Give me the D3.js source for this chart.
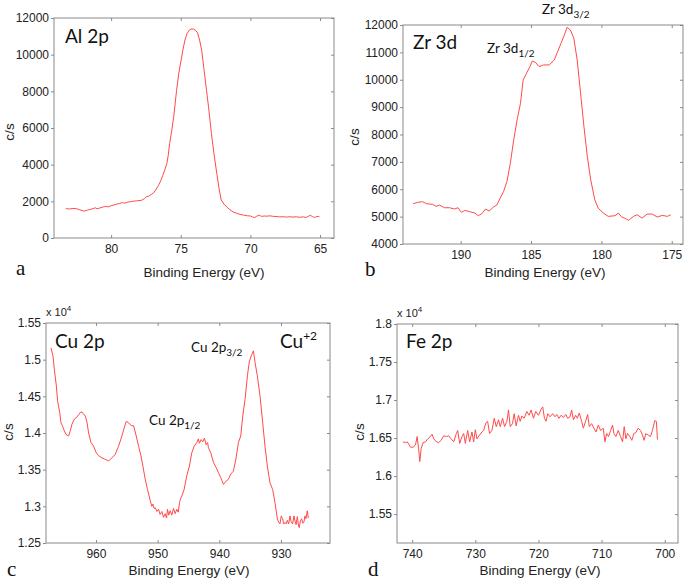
<!DOCTYPE html>
<html><head><meta charset="utf-8">
<script src="https://cdn.jsdelivr.net/npm/d3@7"></script>
<style>
html,body{margin:0;padding:0;background:#fff;}
svg{display:block;}
</style></head>
<body>
<svg id="c" width="685" height="581"></svg>
<script>
// ---------- DATA ----------
const alEnergy = [83.25,83.0,82.75,82.5,82.25,82.0,81.9,81.7,81.5,81.3,81.15,81.0,80.8,80.6,80.4,80.2,80.0,79.8,79.6,79.4,79.2,79.0,78.8,78.6,78.4,78.2,78.0,77.8,77.6,77.45,77.3,77.1,76.95,76.8,76.6,76.45,76.3,76.15,76.0,75.9,75.8,75.65,75.5,75.3,75.15,75.0,74.85,74.7,74.55,74.4,74.25,74.1,73.95,73.8,73.65,73.5,73.35,73.15,73.0,72.8,72.6,72.4,72.25,72.1,71.9,71.7,71.5,71.25,71.0,70.75,70.5,70.2,70.0,69.85,69.7,69.55,69.35,69.2,69.0,68.8,68.6,68.35,68.1,67.9,67.65,67.4,67.2,66.95,66.7,66.5,66.2,66.0,65.85,65.7,65.55,65.4,65.25,65.05];
const alCounts = [1600,1580,1610,1600,1540,1480,1470,1520,1560,1600,1650,1590,1640,1690,1720,1700,1760,1800,1850,1880,1930,1900,1960,1980,2010,2020,2040,2060,2150,2260,2280,2380,2460,2620,2870,3100,3400,3700,4060,4500,5150,5850,6650,8050,8950,9600,10250,10800,11150,11330,11400,11400,11330,11200,10800,10250,9300,8050,7100,5700,4500,3450,2700,2080,1850,1690,1560,1420,1350,1290,1250,1210,1200,1150,1110,1190,1240,1180,1200,1190,1210,1180,1170,1150,1160,1140,1160,1140,1160,1130,1150,1120,1180,1240,1170,1120,1170,1180];

const zrEnergy = [193.38,193.07,192.71,192.42,191.99,191.75,191.51,191.15,190.79,190.43,190.19,189.95,189.71,189.35,188.99,188.75,188.51,188.22,187.98,187.67,187.43,187.19,186.95,186.71,186.47,186.23,185.99,185.75,185.56,185.32,185.08,184.91,184.67,184.43,184.12,183.71,183.35,183.11,182.87,182.63,182.44,182.2,181.96,181.72,181.48,181.24,181.0,180.76,180.47,180.23,179.87,179.51,179.03,178.79,178.55,178.31,178.07,177.71,177.47,177.11,176.75,176.39,176.03,175.67,175.31,175.07];
const zrCounts = [5471,5520,5544,5471,5447,5374,5422,5325,5325,5277,5325,5155,5228,5180,5131,5033,5106,5277,5204,5350,5422,5678,5921,6286,6954,7805,8535,9143,9994,10237,10480,10687,10626,10480,10541,10541,10723,11027,11331,11635,11915,11818,11514,10723,9508,8292,7198,6347,5617,5313,5131,5009,5033,5131,4985,4936,4863,5009,5070,4948,5094,5094,4985,5046,5009,5070];

const cuEnergy = [967.29,966.96,966.75,966.42,966.21,965.88,965.67,965.45,965.13,964.86,964.43,964.16,963.89,963.51,963.18,962.81,962.43,962.1,961.73,961.46,961.19,960.81,960.38,959.95,959.57,959.03,958.49,957.95,957.41,956.87,956.33,955.79,955.41,955.09,954.71,954.28,953.9,953.47,953.09,952.71,952.39,952.01,951.64,
  951.2,950.95,950.77,950.55,950.39,950.1,949.85,949.6,949.31,949.05,948.77,948.55,948.4,948.2,947.97,947.7,947.43,947.15,946.89,946.65,946.45,946.3,946.08,
  945.7,945.27,944.84,944.46,944.08,943.65,943.4,943.22,942.95,942.68,942.4,942.14,941.9,941.76,941.38,940.95,940.52,940.14,939.76,939.33,938.95,938.52,938.14,937.71,937.28,936.9,936.52,936.2,935.82,935.44,935.12,934.74,934.47,934.2,933.83,933.39,932.96,932.59,932.21,931.78,931.35,930.97,
  930.59,930.35,930.16,929.95,929.73,929.55,929.35,929.15,928.97,928.75,928.54,928.35,928.11,927.9,927.73,927.55,927.35,927.15,927.03,926.85,926.65,926.45,926.27,926.1,925.95,925.73,925.57];
// counts in units of 10^4 c/s
const cuCounts = [1.516,1.505,1.487,1.464,1.443,1.428,1.414,1.41,1.403,1.398,1.396,1.403,1.412,1.419,1.421,1.425,1.429,1.427,1.423,1.415,1.4,1.387,1.382,1.373,1.369,1.366,1.364,1.362,1.366,1.371,1.382,1.396,1.407,1.416,1.414,1.41,1.41,1.396,1.382,1.369,1.355,1.337,1.323,
  1.308,1.3,1.303,1.297,1.298,1.293,1.296,1.289,1.293,1.285,1.29,1.284,1.296,1.288,1.294,1.288,1.297,1.29,1.296,1.292,1.305,1.31,1.314,
  1.323,1.342,1.355,1.373,1.382,1.387,1.392,1.386,1.391,1.388,1.393,1.384,1.387,1.38,1.373,1.36,1.353,1.346,1.339,1.33,1.334,1.337,1.344,1.348,1.366,1.387,1.396,1.423,1.446,1.478,1.498,1.507,1.512,1.496,1.478,1.45,1.414,1.382,1.355,1.332,1.323,1.305,
  1.283,1.278,1.276,1.287,1.283,1.276,1.278,1.276,1.281,1.276,1.287,1.279,1.276,1.287,1.28,1.275,1.286,1.273,1.271,1.28,1.283,1.277,1.279,1.287,1.283,1.294,1.284];

const feEnergy = [741.47,741.05,740.79,740.53,740.26,739.84,739.47,739.21,738.95,738.79,738.58,738.26,737.89,737.53,737.11,736.84,736.58,736.16,735.79,735.42,735.0,734.58,734.21,733.84,733.42,733.0,732.79,732.47,732.11,731.84,731.58,731.21,730.89,730.53,730.26,730.0,729.74,729.32,728.95,728.68,728.32,728.05,727.74,727.37,727.0,726.68,726.32,726.05,725.68,725.37,725.0,724.74,724.47,724.11,723.84,723.53,723.16,722.89,722.63,722.26,721.84,721.47,721.16,720.79,720.42,720.0,719.63,719.32,719.05,718.79,718.53,718.16,717.74,717.37,717.11,716.74,716.42,716.05,715.68,715.37,715.0,714.74,714.47,714.11,713.84,713.53,713.16,712.89,712.53,712.21,711.95,711.58,711.21,710.89,710.53,710.16,709.74,709.47,709.21,708.89,708.58,708.26,708.05,707.74,707.37,707.0,706.68,706.42,706.16,705.89,705.53,705.21,704.89,704.58,704.21,703.84,703.53,703.26,703.0,702.63,702.26,701.95,701.58,701.32,701.16];
const feCounts = [1.645,1.644,1.645,1.642,1.638,1.638,1.641,1.652,1.634,1.619,1.636,1.644,1.645,1.649,1.652,1.655,1.649,1.645,1.644,1.647,1.653,1.652,1.653,1.649,1.645,1.656,1.66,1.643,1.652,1.656,1.643,1.66,1.645,1.658,1.645,1.661,1.649,1.654,1.658,1.66,1.67,1.672,1.656,1.66,1.676,1.665,1.674,1.665,1.676,1.665,1.672,1.687,1.665,1.669,1.682,1.666,1.68,1.672,1.679,1.676,1.685,1.68,1.687,1.676,1.685,1.68,1.687,1.691,1.676,1.672,1.682,1.678,1.682,1.678,1.681,1.676,1.68,1.677,1.681,1.676,1.678,1.687,1.674,1.68,1.676,1.683,1.672,1.663,1.672,1.681,1.665,1.669,1.663,1.658,1.667,1.66,1.663,1.645,1.656,1.652,1.66,1.667,1.656,1.652,1.66,1.652,1.645,1.665,1.649,1.656,1.652,1.647,1.656,1.657,1.663,1.66,1.654,1.647,1.656,1.654,1.652,1.66,1.673,1.672,1.648];

const alXTicks = [80,75,70,65];
const alYTicks = [0,2000,4000,6000,8000,10000,12000];
const zrXTicks = [190,185,180,175];
const zrYTicks = [4000,5000,6000,7000,8000,9000,10000,11000,12000];
const cuXTicks = [960,950,940,930];
const cuYTicks = [1.25,1.3,1.35,1.4,1.45,1.5,1.55];
const feXTicks = [740,730,720,710,700];
const feYTicks = [1.55,1.6,1.65,1.7,1.75,1.8];

// ---------- DRAW ----------
const svg = d3.select("#c");
const LINE = "#ff4a4a";
const FRAME = "#8a8a8a";
const TXT = "#222";
const SANS = "'Liberation Sans', Arial, sans-serif";
const TITLE = "Lato, 'Open Sans', sans-serif";

function panel(cfg){
  const x = d3.scaleLinear().domain(cfg.xd).range([cfg.l, cfg.r]);
  const y = d3.scaleLinear().domain(cfg.yd).range([cfg.b, cfg.t]);
  const g = svg.append("g");
  const fmt = cfg.fmt || (d=>String(d));
  const styleAxis = sel => {
    sel.select(".domain").remove();
    sel.selectAll("line").attr("stroke", FRAME);
    sel.selectAll("text").attr("fill", TXT).style("font-family", SANS).style("font-size","12px");
  };
  g.append("g").attr("transform",`translate(0,${cfg.b})`)
    .call(d3.axisBottom(x).tickValues(cfg.xt).tickSize(-3).tickPadding(6).tickFormat(d3.format("d")))
    .call(styleAxis);
  g.append("g").attr("transform",`translate(0,${cfg.t})`)
    .call(d3.axisTop(x).tickValues(cfg.xt).tickSize(-3).tickFormat(""))
    .call(styleAxis);
  g.append("g").attr("transform",`translate(${cfg.l},0)`)
    .call(d3.axisLeft(y).tickValues(cfg.yt).tickSize(3).tickPadding(2).tickFormat(fmt))
    .call(styleAxis);
  g.append("g").attr("transform",`translate(${cfg.r},0)`)
    .call(d3.axisRight(y).tickValues(cfg.yt).tickSize(-3).tickFormat(""))
    .call(styleAxis);
  g.append("rect").attr("x",cfg.l).attr("y",cfg.t).attr("width",cfg.r-cfg.l).attr("height",cfg.b-cfg.t)
    .attr("fill","none").attr("stroke",FRAME).attr("stroke-width",1);
  const pts = cfg.xs.map((v,i)=>[v,cfg.ys[i]]);
  g.append("path").datum(pts)
    .attr("d", d3.line().x(d=>x(d[0])).y(d=>y(d[1])).curve(cfg.curve||d3.curveLinear))
    .attr("fill","none").attr("stroke",LINE).attr("stroke-width",1).attr("stroke-linejoin","round");
  g.append("text").attr("x",cfg.xlx).attr("y",cfg.xly).attr("text-anchor","middle")
    .style("font-family",SANS).style("font-size","13.5px").attr("fill",TXT).text("Binding Energy (eV)");
  g.append("text").attr("transform",`translate(${cfg.ylx},${cfg.yly}) rotate(-90)`).attr("text-anchor","middle")
    .style("font-family",SANS).style("font-size","13.5px").attr("fill",TXT).text("c/s");
  g.append("text").attr("x",cfg.px).attr("y",cfg.py)
    .style("font-family","'Liberation Serif', 'Times New Roman', serif").style("font-size","21px").attr("fill","#111").text(cfg.letter);
  g.append("text").attr("x",cfg.tx).attr("y",cfg.ty)
    .style("font-family",TITLE).style("font-size","19px").attr("fill","#111").text(cfg.title);
  if(cfg.exp){
    const e = g.append("text").attr("x",cfg.exp[0]).attr("y",cfg.exp[1])
      .style("font-family",SANS).style("font-size","11px").attr("fill",TXT);
    e.append("tspan").text("x 10");
    e.append("tspan").attr("dy",-5).style("font-size","8px").text("4");
  }
  return g;
}

function subLabel(g, x0, y0, main, sub){
  const t = g.append("text").attr("x",x0).attr("y",y0)
    .style("font-family",TITLE).style("font-size","13.5px").attr("fill","#111");
  t.append("tspan").text(main);
  t.append("tspan").attr("dy", 4).style("font-size","10px").text(sub);
}

const trimFmt = d => String(+d.toFixed(2));

const ga = panel({l:54,r:334,t:18,b:238, xd:[84.1,64.0], yd:[0,12000], xt:alXTicks, yt:alYTicks,
  xs:alEnergy, ys:alCounts, xlx:204, xly:277, ylx:14, yly:132, px:16, py:275, letter:"a",
  tx:65, ty:43, title:"Al 2p"});

const gb = panel({l:403,r:683,t:25,b:244, xd:[194.1,174.2], yd:[4000,12000], xt:zrXTicks, yt:zrYTicks,
  xs:zrEnergy, ys:zrCounts, xlx:545, xly:277, ylx:359, yly:137, px:365, py:276, letter:"b",
  tx:413, ty:49, title:"Zr 3d"});
subLabel(gb, 487, 53, "Zr 3d", "1/2");
subLabel(gb, 542, 14, "Zr 3d", "3/2");

const gc = panel({l:46,r:330,t:323,b:543, xd:[968.1,922.05], yd:[1.25,1.55], xt:cuXTicks, yt:cuYTicks, fmt:trimFmt,
  xs:cuEnergy, ys:cuCounts, xlx:189, xly:575, ylx:13, yly:432, px:7, py:576, letter:"c",
  tx:55, ty:348, title:"Cu 2p", exp:[46,316]});
subLabel(gc, 191, 352, "Cu 2p", "3/2");
subLabel(gc, 149, 425, "Cu 2p", "1/2");
{
  const t = gc.append("text").attr("x",280).attr("y",348)
    .style("font-family",TITLE).style("font-size","19px").attr("fill","#111");
  t.append("tspan").text("Cu");
  t.append("tspan").attr("dy",-8).style("font-size","12px").text("+2");
}

const gd = panel({l:397,r:678,t:324,b:543, xd:[742.4,697.9], yd:[1.512,1.8], xt:feXTicks, yt:feYTicks, fmt:trimFmt,
  xs:feEnergy, ys:feCounts, xlx:540, xly:575, ylx:364, yly:432, px:368, py:576, letter:"d",
  tx:406, ty:348, title:"Fe 2p", exp:[397,317]});
</script>
</body></html>
